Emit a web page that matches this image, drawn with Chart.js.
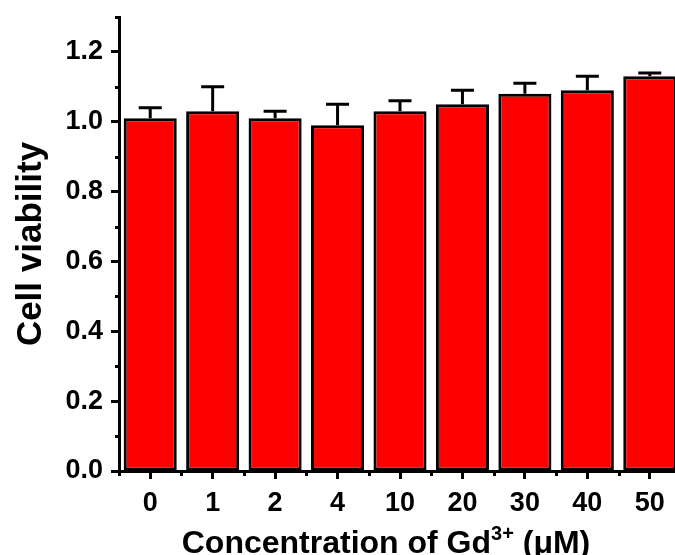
<!DOCTYPE html>
<html>
<head>
<meta charset="utf-8">
<script src="https://cdn.jsdelivr.net/npm/chart.js@4.4.1/dist/chart.umd.min.js"></script>
<style>
  html, body { margin: 0; padding: 0; background: #fff; overflow: hidden; }
  .wrap { width: 681px; height: 555px; position: relative; }
</style>
</head>
<body>
<div class="wrap"><canvas id="viability"></canvas></div>
<script>
// data
const concentrations = ['0', '1', '2', '4', '10', '20', '30', '40', '50'];
const viability = [1.01, 1.03, 1.01, 0.99, 1.03, 1.05, 1.08, 1.09, 1.13];
const viabilityErr = [0.03, 0.07, 0.02, 0.06, 0.03, 0.04, 0.03, 0.04, 0.01];
const yMin = 0;
const yMax = 1.3;
const yMajorStep = 0.2;
const yMinorTicks = [0.1, 0.3, 0.5, 0.7, 0.9, 1.1, 1.3];

const FONT = "'Liberation Sans', Arial, sans-serif";

// upward-only error bars with caps
const errorBars = {
    id: 'errorBars',
    afterDatasetsDraw(chart) {
        const ctx = chart.ctx;
        const y = chart.scales.y;
        const meta = chart.getDatasetMeta(0);
        ctx.save();
        ctx.strokeStyle = '#000';
        ctx.lineWidth = 3;
        meta.data.forEach((bar, i) => {
            const top = y.getPixelForValue(viability[i] + viabilityErr[i]);
            ctx.beginPath();
            ctx.moveTo(bar.x, bar.y);
            ctx.lineTo(bar.x, top);
            ctx.moveTo(bar.x - 11.5, top);
            ctx.lineTo(bar.x + 11.5, top);
            ctx.stroke();
        });
        ctx.restore();
    }
};

// minor ticks on both axes + x title with superscript
const axisExtras = {
    id: 'axisExtras',
    afterDraw(chart) {
        const ctx = chart.ctx;
        const x = chart.scales.x;
        const y = chart.scales.y;
        const area = chart.chartArea;
        ctx.save();
        ctx.strokeStyle = '#000';
        ctx.lineWidth = 3;
        ctx.beginPath();
        yMinorTicks.forEach(v => {
            const py = Math.round(y.getPixelForValue(v)) + 0.5;
            ctx.moveTo(area.left - 4, py);
            ctx.lineTo(area.left, py);
        });
        const half = (x.getPixelForValue(1) - x.getPixelForValue(0)) / 2;
        for (let i = 0; i <= concentrations.length; i++) {
            const px = Math.round(x.getPixelForValue(i) - half) + 0.5;
            ctx.moveTo(px, area.bottom);
            ctx.lineTo(px, area.bottom + 5);
        }
        ctx.stroke();

        // "Concentration of Gd3+ (μM)"
        const big = 'bold 32px ' + FONT;
        const small = 'bold 20px ' + FONT;
        const parts = [
            { t: 'Concentration of Gd', f: big, dy: 0 },
            { t: '3+', f: small, dy: -13 },
            { t: ' (\u03bcM)', f: big, dy: 0 }
        ];
        let total = 0;
        parts.forEach(p => { ctx.font = p.f; p.w = ctx.measureText(p.t).width; total += p.w; });
        let cx = 386 - total / 2;
        const base = 553;
        ctx.fillStyle = '#000';
        ctx.textBaseline = 'alphabetic';
        ctx.textAlign = 'left';
        parts.forEach(p => {
            ctx.font = p.f;
            ctx.fillText(p.t, cx, base + p.dy);
            cx += p.w;
        });
        ctx.restore();
    }
};

new Chart(document.getElementById('viability'), {
    type: 'bar',
    data: {
        labels: concentrations,
        datasets: [{
            data: viability,
            backgroundColor: '#ff0000',
            borderColor: '#000000',
            borderWidth: 3,
            borderSkipped: false,
            categoryPercentage: 1.0,
            barPercentage: 0.85
        }]
    },
    options: {
        responsive: true,
        maintainAspectRatio: false,
        animation: false,
        layout: { padding: { top: 17, left: 0, right: 0, bottom: 0 } },
        plugins: {
            legend: { display: false },
            tooltip: { enabled: false }
        },
        scales: {
            x: {
                offset: true,
                grid: {
                    offset: false,
                    drawOnChartArea: false,
                    tickLength: 8,
                    tickWidth: 3,
                    tickColor: '#000'
                },
                border: { display: true, color: '#000', width: 3 },
                ticks: {
                    color: '#000',
                    padding: 8,
                    font: { family: FONT, size: 27, weight: 'bold' },
                    maxRotation: 0,
                    autoSkip: false
                },
                afterFit(scale) {
                    scale.height = 84;
                    scale.paddingLeft = 0;
                    scale.paddingRight = 0;
                }
            },
            y: {
                min: yMin,
                max: yMax,
                grid: {
                    drawOnChartArea: false,
                    tickLength: 8,
                    tickWidth: 3,
                    tickColor: '#000'
                },
                border: { display: true, color: '#000', width: 3 },
                ticks: {
                    stepSize: yMajorStep,
                    includeBounds: false,
                    color: '#000',
                    padding: 8,
                    font: { family: FONT, size: 27, weight: 'bold' },
                    callback: v => Number(v).toFixed(1)
                },
                title: {
                    display: true,
                    text: 'Cell viability',
                    color: '#000',
                    font: { family: FONT, size: 35, weight: 'bold' },
                    padding: { top: 10, bottom: 0 }
                },
                afterFit(scale) {
                    scale.width = 119;
                    scale.paddingTop = 0;
                    scale.paddingBottom = 0;
                }
            }
        }
    },
    plugins: [errorBars, axisExtras]
});
</script>
</body>
</html>
